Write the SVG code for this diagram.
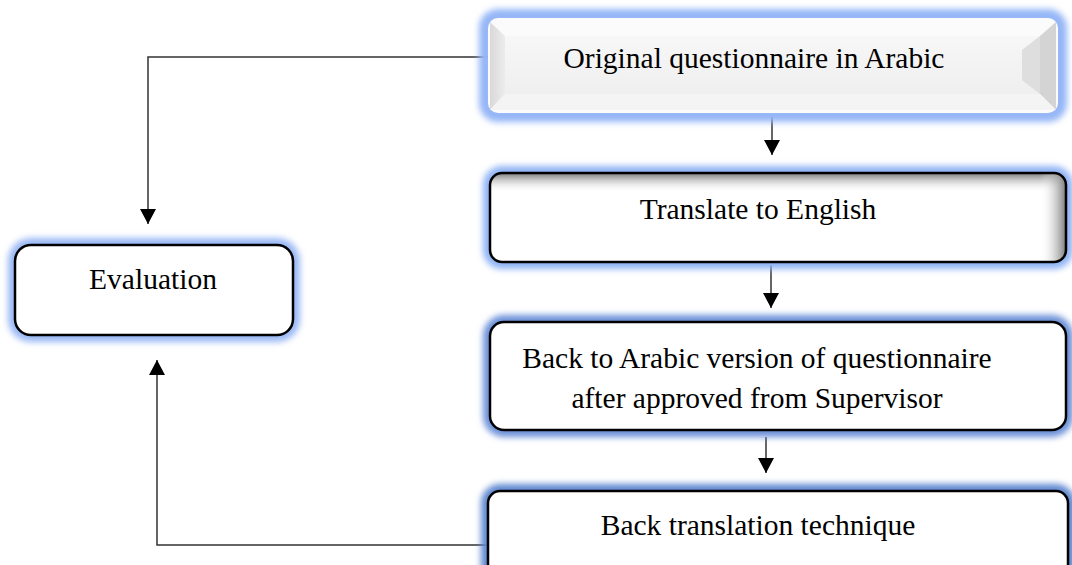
<svg xmlns="http://www.w3.org/2000/svg" width="1072" height="565" viewBox="0 0 1072 565">
<defs>
<filter id="glow" x="-10%" y="-30%" width="120%" height="160%">
<feGaussianBlur stdDeviation="3"/>
</filter>
<marker id="arr" markerWidth="18" markerHeight="18" refX="15" refY="8" orient="auto" markerUnits="userSpaceOnUse">
<path d="M0,0 L15,8 L0,16 Z" fill="#000"/>
</marker>
<linearGradient id="topShade" x1="0" y1="0" x2="0" y2="1">
<stop offset="0" stop-color="#7a7a7a"/>
<stop offset="0.22" stop-color="#ffffff" stop-opacity="0"/>
</linearGradient>
<linearGradient id="rightShade" x1="1" y1="0" x2="0" y2="0">
<stop offset="0" stop-color="#7a7a7a"/>
<stop offset="0.045" stop-color="#ffffff" stop-opacity="0"/>
</linearGradient>
<linearGradient id="leftBevel" x1="0" y1="0" x2="1" y2="0">
<stop offset="0" stop-color="#d9d9d9"/>
<stop offset="1" stop-color="#ececec"/>
</linearGradient>
<linearGradient id="face" x1="0" y1="0" x2="0" y2="1">
<stop offset="0" stop-color="#f7f7f7"/>
<stop offset="1" stop-color="#efefef"/>
</linearGradient>
<clipPath id="c2"><rect x="490" y="173" width="576" height="89" rx="12"/></clipPath>
</defs>
<style>
.lbl{font-family:"Liberation Serif","Times New Roman",serif;font-size:29.5px;fill:#000;text-anchor:middle}
.box{fill:#fff;stroke:#000;stroke-width:2.5}
.conn{fill:none;stroke:#333;stroke-width:1.5}
.glow{fill:none;stroke-width:14}
</style>

<g id="connectors">
<path class="conn" d="M488,57 H148 V224" marker-end="url(#arr)"/>
<path class="conn" d="M772,116 V155" marker-end="url(#arr)"/>
<path class="conn" d="M771,265 V308" marker-end="url(#arr)"/>
<path class="conn" d="M766,437 V473" marker-end="url(#arr)"/>
<path class="conn" d="M488,545 H157 V360" marker-end="url(#arr)"/>
</g>

<g id="node-original">
<rect class="glow" x="486" y="16" width="574" height="99" rx="12" stroke="#94b6f7" filter="url(#glow)"/>
<rect x="488" y="18" width="570" height="95" rx="10" fill="#fbfbfb"/>
<path d="M490,22 L505,36 L505,94 L490,110 Z" fill="url(#leftBevel)"/>
<path d="M1056,22 L1040,36 L1040,94 L1056,110 Z" fill="#d4d4d4"/>
<path d="M505,94 L1040,94 L1056,110 L490,110 Z" fill="#f4f4f4"/>
<rect x="505" y="36" width="535" height="58" fill="url(#face)"/>
<path d="M1040,36 L1022,50 L1022,80 L1040,94 Z" fill="#dedede"/>
<text class="lbl" x="754" y="68">Original questionnaire in Arabic</text>
</g>

<g id="node-translate">
<rect class="glow" x="490" y="173" width="576" height="89" rx="12" stroke="#8fb3f5" filter="url(#glow)"/>
<rect x="490" y="173" width="576" height="89" rx="12" fill="#fff"/>
<g clip-path="url(#c2)">
<rect x="490" y="173" width="576" height="89" fill="url(#topShade)"/>
<rect x="490" y="173" width="576" height="89" fill="url(#rightShade)"/>
</g>
<rect x="490" y="173" width="576" height="89" rx="12" fill="none" stroke="#000" stroke-width="2.5"/>
<text class="lbl" x="758" y="219">Translate to English</text>
</g>

<g id="node-back-arabic">
<rect class="glow" x="490" y="322" width="576" height="108" rx="14" stroke="#6a90d8" filter="url(#glow)"/>
<rect class="box" x="490" y="322" width="576" height="108" rx="14"/>
<text class="lbl" x="757" y="368">Back to Arabic version of questionnaire</text>
<text class="lbl" x="757" y="408">after approved from Supervisor</text>
</g>

<g id="node-back-translation">
<rect class="glow" x="488" y="491" width="580" height="90" rx="12" stroke="#5f88d0" filter="url(#glow)"/>
<rect class="box" x="488" y="491" width="580" height="90" rx="12"/>
<text class="lbl" x="758" y="535">Back translation technique</text>
</g>

<g id="node-evaluation">
<rect class="glow" x="15" y="245" width="278" height="90" rx="16" stroke="#9ab8f5" filter="url(#glow)"/>
<rect class="box" x="15" y="245" width="278" height="90" rx="16"/>
<text class="lbl" x="153" y="289">Evaluation</text>
</g>
</svg>
